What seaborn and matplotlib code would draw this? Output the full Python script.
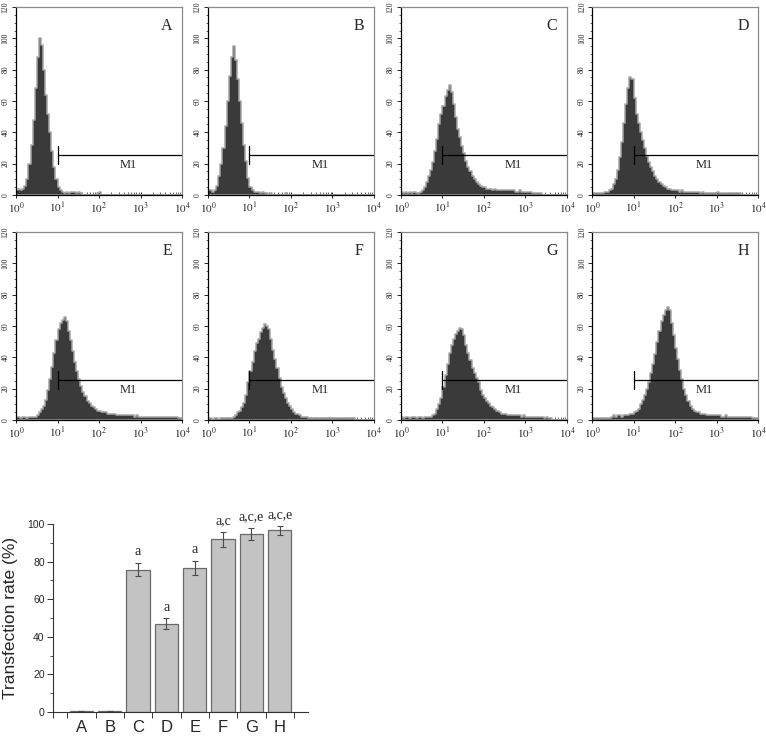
import numpy as np
import pandas as pd
import matplotlib
matplotlib.use('Agg')
import matplotlib.pyplot as plt
import seaborn as sns

# flow cytometry histograms: counts per channel bin, 0.05 decade wide, from 10^0 to 10^4
panel_names = ['A', 'B', 'C', 'D', 'E', 'F', 'G', 'H']

hist_A = [3, 4, 3, 4, 6, 10, 20, 32, 48, 68, 88, 100, 96, 80, 64, 52, 40, 28, 18, 10,
          5, 3, 2, 1, 2, 1, 2, 2, 2, 1, 2, 1, 0, 0, 0, 0, 0, 0, 0, 1,
          2, 0, 0, 0, 0, 0, 0, 0, 0, 0, 0, 0, 0, 0, 0, 0, 0, 0, 0, 0,
          0, 0, 0, 0, 0, 0, 0, 0, 0, 0, 0, 0, 0, 0, 0, 0, 0, 0, 0, 0]
hist_B = [3, 3, 2, 3, 6, 12, 20, 30, 44, 60, 76, 88, 95, 86, 74, 60, 46, 32, 22, 11,
          5, 3, 2, 2, 2, 1, 2, 1, 1, 0, 1, 0, 0, 0, 0, 0, 0, 1, 0, 0,
          0, 0, 0, 0, 0, 0, 0, 0, 0, 0, 0, 0, 0, 0, 0, 0, 0, 0, 0, 0,
          0, 0, 0, 0, 0, 0, 0, 0, 0, 0, 0, 0, 0, 0, 0, 0, 0, 0, 0, 0]
hist_C = [2, 1, 2, 1, 2, 1, 2, 1, 1, 2, 3, 5, 8, 12, 16, 21, 28, 36, 45, 52,
          57, 63, 67, 70, 66, 58, 50, 42, 37, 31, 27, 22, 18, 15, 12, 10, 8, 7, 6, 5,
          5, 4, 4, 4, 3, 4, 3, 3, 3, 3, 3, 3, 3, 3, 3, 2, 2, 3, 2, 2,
          2, 2, 2, 1, 1, 1, 1, 1, 0, 0, 0, 0, 0, 0, 0, 0, 0, 0, 0, 0]
hist_D = [1, 1, 1, 1, 1, 1, 2, 2, 3, 4, 7, 10, 16, 24, 34, 46, 58, 68, 75, 74,
          62, 52, 46, 40, 35, 30, 25, 21, 18, 15, 12, 10, 8, 7, 6, 5, 4, 4, 3, 3,
          3, 3, 2, 3, 2, 2, 2, 2, 2, 2, 2, 2, 1, 2, 1, 1, 1, 1, 1, 1,
          2, 1, 1, 1, 1, 1, 1, 1, 1, 1, 1, 1, 0, 0, 0, 0, 0, 0, 0, 0]
hist_E = [2, 2, 1, 2, 2, 1, 2, 2, 2, 2, 3, 5, 7, 9, 13, 19, 26, 34, 43, 51,
          58, 62, 64, 66, 63, 57, 51, 44, 37, 31, 26, 22, 18, 15, 12, 11, 9, 8, 7, 6,
          6, 5, 5, 5, 4, 4, 4, 4, 3, 3, 3, 3, 3, 3, 3, 3, 3, 2, 3, 2,
          2, 2, 2, 2, 2, 2, 2, 2, 2, 2, 2, 2, 2, 2, 2, 2, 2, 2, 1, 1]
hist_F = [1, 1, 0, 1, 1, 0, 1, 1, 1, 1, 1, 1, 2, 3, 5, 6, 8, 11, 16, 24,
          31, 37, 44, 49, 52, 56, 59, 61, 60, 58, 52, 45, 39, 33, 27, 21, 17, 14, 11, 9,
          7, 5, 4, 4, 3, 2, 2, 2, 1, 1, 1, 1, 1, 1, 1, 1, 1, 1, 1, 1,
          1, 1, 1, 1, 1, 1, 1, 1, 1, 1, 1, 0, 0, 0, 0, 0, 0, 0, 0, 0]
hist_G = [2, 1, 2, 2, 1, 2, 2, 1, 2, 2, 1, 2, 2, 2, 2, 3, 4, 7, 10, 14,
          21, 29, 36, 43, 48, 52, 55, 57, 59, 58, 54, 48, 43, 38, 33, 30, 27, 24, 19, 16,
          14, 12, 11, 9, 8, 7, 6, 5, 4, 4, 4, 3, 3, 3, 3, 3, 3, 3, 2, 3,
          2, 2, 2, 2, 2, 2, 2, 2, 2, 1, 2, 1, 1, 0, 0, 0, 0, 0, 0, 0]
hist_H = [1, 1, 1, 1, 1, 1, 1, 1, 1, 2, 3, 2, 3, 3, 2, 3, 3, 3, 4, 4,
          5, 6, 7, 10, 13, 16, 20, 24, 30, 36, 42, 50, 57, 63, 67, 70, 72, 70, 62, 54,
          46, 39, 32, 26, 20, 16, 12, 9, 7, 6, 5, 5, 4, 4, 4, 3, 3, 3, 3, 3,
          3, 3, 2, 2, 3, 2, 2, 2, 2, 2, 2, 2, 2, 2, 2, 2, 2, 1, 1, 1]
hists = [hist_A, hist_B, hist_C, hist_D, hist_E, hist_F, hist_G, hist_H]

# transfection rate bar chart
groups = ['A', 'B', 'C', 'D', 'E', 'F', 'G', 'H']
rates = [0.8, 0.8, 75.8, 47.0, 76.7, 91.9, 94.7, 96.8]
rate_err = [0.0, 0.0, 3.5, 2.8, 3.7, 3.9, 3.1, 2.4]
sig_labels = ['', '', 'a', 'a', 'a', 'a,c', 'a,c,e', 'a,c,e']

sns.set_theme(style='ticks')
plt.rcParams['font.family'] = ['Liberation Serif', 'DejaVu Serif']
plt.rcParams['mathtext.fontset'] = 'stix'

fig = plt.figure(figsize=(7.66, 7.38), dpi=100)

centers = np.arange(80) * 0.05 + 0.025
lefts = [0.0209, 0.2715, 0.5235, 0.7729]
bottoms = [0.7358, 0.4309]
minor_x = [n + np.log10(k) for n in range(4) for k in range(2, 10)]

for i, (name, counts) in enumerate(zip(panel_names, hists)):
    assert len(counts) == 80
    df = pd.DataFrame({'log_fl': centers, 'count': counts})
    ax = fig.add_axes([lefts[i % 4], bottoms[i // 4], 0.2167, 0.2547])
    sns.histplot(data=df, x='log_fl', weights='count', bins=80, binrange=(0, 4),
                 element='step', fill=True, color='#3a3a3a', edgecolor='#a6a6a6',
                 linewidth=1.1, alpha=1, ax=ax)
    ax.set_xlim(0, 4)
    ax.set_ylim(0, 120)
    ax.set_xlabel('')
    ax.set_ylabel('')

    # M1 gate
    ax.plot([1, 4], [25.5, 25.5], color='black', lw=0.9)
    ax.plot([1, 1], [20, 31], color='black', lw=0.9)
    ax.text(2.7, 19, 'M1', ha='center', va='center', fontsize=9)
    ax.text(0.91, 0.90, name, transform=ax.transAxes, ha='center', va='center', fontsize=11.5)

    ax.set_xticks(range(5))
    ax.set_xticklabels([r'$10^{%d}$' % n for n in range(5)], fontsize=8)
    ax.set_xticks(minor_x, minor=True)
    ax.set_yticks(range(0, 121, 20))
    ax.set_yticklabels([str(v) for v in range(0, 121, 20)], rotation=90, va='center', fontsize=5.5)
    ax.set_yticks(range(0, 121, 5), minor=True)
    ax.tick_params(axis='x', which='major', direction='inout', length=4, width=0.7, pad=2)
    ax.tick_params(axis='x', which='minor', direction='in', length=2, width=0.5)
    ax.tick_params(axis='y', which='major', direction='out', length=3, width=0.7, pad=1.5)
    ax.tick_params(axis='y', which='minor', direction='out', length=1.5, width=0.5)
    for side in ['left', 'bottom']:
        ax.spines[side].set_color('black')
        ax.spines[side].set_linewidth(0.9)
    for side in ['top', 'right']:
        ax.spines[side].set_color('#8a8a8a')
        ax.spines[side].set_linewidth(0.9)

# bar chart
bx = fig.add_axes([0.0692, 0.0352, 0.333, 0.2547])
sns.barplot(x=groups, y=rates, color='#c3c3c3', edgecolor='#6a6a6a', linewidth=0.9,
            width=0.82, saturation=1, ax=bx)
bx.errorbar(range(len(groups)), rates, yerr=rate_err, fmt='none', ecolor='#4a4a4a',
            elinewidth=0.8, capsize=2.2, capthick=0.8)
for i, lab in enumerate(sig_labels):
    if lab:
        bx.text(i, rates[i] + rate_err[i] + 6, lab, ha='center', va='center', fontsize=10)

bx.set_xlim(-1, 8)
bx.set_ylim(0, 100)
sns.despine(ax=bx)
bx.spines['left'].set_color('#333333')
bx.spines['bottom'].set_color('#333333')
bx.spines['left'].set_linewidth(0.8)
bx.spines['bottom'].set_linewidth(0.8)
bx.set_yticks(range(0, 101, 20))
bx.set_yticklabels([str(v) for v in range(0, 101, 20)], family='Liberation Sans', fontsize=7.5)
bx.set_yticks(range(10, 100, 20), minor=True)
bx.set_xticks(range(len(groups)))
bx.set_xticklabels(groups, family='Liberation Sans', fontsize=12)
bx.set_xticks([-1] + [k + 0.5 for k in range(-1, 8)], minor=True)
bx.tick_params(axis='x', which='major', length=0, pad=6)
bx.tick_params(axis='x', which='minor', direction='out', length=4, width=0.7, color='#333333')
bx.tick_params(axis='y', which='major', direction='out', length=4, width=0.7, color='#333333', pad=2)
bx.tick_params(axis='y', which='minor', direction='out', length=2, width=0.6, color='#333333')
bx.set_xlabel('')
bx.set_ylabel('Transfection rate (%)', family='Liberation Sans', fontsize=12.5, labelpad=7)

fig.savefig('out.png', dpi=100)
